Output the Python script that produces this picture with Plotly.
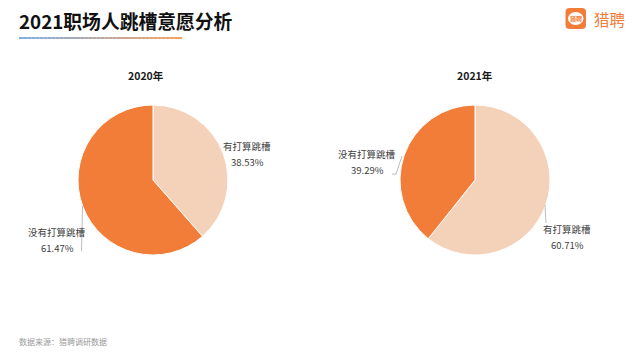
import plotly.graph_objects as go

W, H = 640, 356
CJK = "Noto Sans CJK SC, Noto Sans, sans-serif"

title = "2021职场人跳槽意愿分析"
source = "数据来源：猎聘调研数据"
brand = "猎聘"
years = ["2020年", "2021年"]
categories = ["有打算跳槽", "没有打算跳槽"]
values_2020 = [38.53, 61.47]
values_2021 = [60.71, 39.29]
colors = ["#F4D2BA", "#F27D38"]


def px(x):
    return x / W


def py(y):
    return 1 - y / H


fig = go.Figure()
for vals, (x0, x1) in ((values_2020, (78, 228)), (values_2021, (400, 550))):
    fig.add_trace(go.Pie(
        labels=categories, values=vals, sort=False, direction="clockwise", rotation=0,
        marker=dict(colors=colors, line=dict(color="#FFFFFF", width=1)),
        textinfo="none", hoverinfo="label+percent", showlegend=False,
        domain=dict(x=[px(x0), px(x1)], y=[py(255), py(105)]),
    ))


def text(x, y, s, size, color, bold=False, anchor="center"):
    fig.add_annotation(
        x=px(x), y=py(y), xref="paper", yref="paper", text=f"<b>{s}</b>" if bold else s,
        showarrow=False, xanchor=anchor, yanchor="middle", borderpad=0, borderwidth=0,
        font=dict(family=CJK, size=size, color=color),
    )


shapes = []


def seg(pts, color="#BDBDBD", width=1):
    for (a, b), (c, d) in zip(pts, pts[1:]):
        shapes.append(dict(type="line", xref="paper", yref="paper",
                           x0=px(a), y0=py(b), x1=px(c), y1=py(d),
                           line=dict(color=color, width=width)))


# title + gradient rule
text(18.5, 21, title, 18.8, "#111111", bold=True, anchor="left")
n = 40
left, right = (125, 175, 230), (245, 160, 95)
for i in range(n):
    t = i / (n - 1)
    c = tuple(round(l + (r - l) * t) for l, r in zip(left, right))
    seg([(19 + 163 * i / n, 38), (19 + 163 * (i + 1) / n, 38)], f"rgb{c}", 2)

# chart titles
text(146, 75.5, years[0], 10.5, "#1A1A1A", bold=True)
text(475, 75.5, years[1], 10.5, "#1A1A1A", bold=True)

# slice labels
for x, y, name, v in (
    (247, 146, categories[0], values_2020[0]),
    (57, 232, categories[1], values_2020[1]),
    (367, 154, categories[1], values_2021[1]),
    (567, 229, categories[0], values_2021[0]),
):
    text(x, y, name, 9.5, "#404040")
    text(x, y + 16, f"{v:.2f}%", 9.5, "#404040")

# leader lines
seg([(82.5, 206), (81.5, 251)])
seg([(402, 156), (396, 174), (392, 174)])
seg([(545, 205), (546, 223)])

# source
text(19, 341.5, source, 8, "#9A9A9A", anchor="left")


# logo
def rounded(x0, y0, x1, y1, r):
    X0, X1 = px(x0), px(x1)
    Y0, Y1 = py(y0), py(y1)
    rx, ry = r / W, r / H
    return (f"M{X0 + rx},{Y0} L{X1 - rx},{Y0} Q{X1},{Y0} {X1},{Y0 - ry} "
            f"L{X1},{Y1 + ry} Q{X1},{Y1} {X1 - rx},{Y1} L{X0 + rx},{Y1} "
            f"Q{X0},{Y1} {X0},{Y1 + ry} L{X0},{Y0 - ry} Q{X0},{Y0} {X0 + rx},{Y0} Z")


shapes.append(dict(type="path", xref="paper", yref="paper",
                   path=rounded(565.5, 8, 586, 29, 4),
                   fillcolor="#F27D38", line=dict(width=0)))
shapes.append(dict(type="circle", xref="paper", yref="paper",
                   x0=px(568), x1=px(583.5), y0=py(25), y1=py(12),
                   fillcolor="#FFFFFF", line=dict(width=0)))
text(575.8, 18.5, brand, 6, "#F27D38", bold=True)
text(609, 18.5, brand, 15.5, "#F27D38")

fig.update_layout(width=W, height=H, margin=dict(l=0, r=0, t=0, b=0),
                  paper_bgcolor="#FFFFFF", plot_bgcolor="#FFFFFF", shapes=shapes)
fig.write_html("out.html", config=dict(displayModeBar=False),
               post_script="document.body.style.margin='0';")
